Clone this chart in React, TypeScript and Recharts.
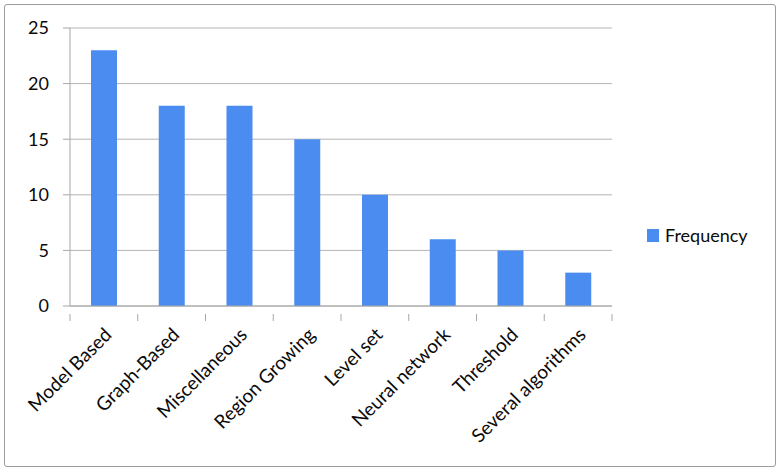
import { Bar, BarChart, CartesianGrid, XAxis, YAxis } from "recharts";

const categories = [
  "Model Based",
  "Graph-Based",
  "Miscellaneous",
  "Region Growing",
  "Level set",
  "Neural network",
  "Threshold",
  "Several algorithms",
];
const frequency = [23, 18, 18, 15, 10, 6, 5, 3];
const yTicks = [0, 5, 10, 15, 20, 25];
const seriesName = "Frequency";

const data = categories.map((name, i) => ({ name, [seriesName]: frequency[i] }));

const W = 780;
const H = 470;
const MARGIN = { top: 28, right: 168, bottom: 4, left: 0 };
const Y_AXIS_W = 70;
const PLOT_W = W - MARGIN.left - MARGIN.right - Y_AXIS_W;
const BAND = PLOT_W / categories.length;
const FONT = "Lato, 'Open Sans', sans-serif";
const BLUE = "#4A8CF0";
const AXIS_GRAY = "#A6A6A6";

// category label rotated 45°, plus the tick marks at the band boundaries
function CategoryTick(props: any) {
  const { x, y, payload, index } = props;
  const left = x - BAND / 2;
  const tx = x + 9;
  const ty = y + 22;
  return (
    <g>
      <line x1={left} y1={y} x2={left} y2={y + 7} stroke={AXIS_GRAY} />
      {index === categories.length - 1 && (
        <line x1={left + BAND} y1={y} x2={left + BAND} y2={y + 7} stroke={AXIS_GRAY} />
      )}
      <text
        x={tx}
        y={ty}
        transform={`rotate(-45 ${tx} ${ty})`}
        textAnchor="end"
        fill="#0a0a0a"
        fontSize={19}
        fontFamily={FONT}
      >
        {payload.value}
      </text>
    </g>
  );
}

export default function App() {
  return (
    <div style={{ position: "absolute", left: 0, top: 0, width: W, height: H, background: "#fff" }}>
      <div
        style={{
          position: "absolute",
          left: 4,
          top: 4,
          width: 770,
          height: 461,
          border: "1.5px solid #9C9C9C",
          borderRadius: 3,
        }}
      />
      <BarChart width={W} height={H} data={data} margin={MARGIN} barCategoryGap={0}>
        <CartesianGrid vertical={false} stroke="#B4B4B4" />
        <XAxis
          dataKey="name"
          interval={0}
          height={160}
          tickLine={false}
          axisLine={{ stroke: AXIS_GRAY }}
          tick={<CategoryTick />}
        />
        <YAxis
          width={Y_AXIS_W}
          domain={[0, 25]}
          ticks={yTicks}
          tickSize={7}
          tickMargin={14}
          axisLine={{ stroke: AXIS_GRAY }}
          tickLine={{ stroke: AXIS_GRAY }}
          tick={{ fill: "#0a0a0a", fontSize: 18, fontFamily: FONT }}
        />
        <Bar dataKey={seriesName} fill={BLUE} barSize={26} isAnimationActive={false} />
      </BarChart>
      <div
        style={{
          position: "absolute",
          left: 647,
          top: 224,
          display: "flex",
          alignItems: "center",
          fontFamily: FONT,
          fontSize: 18,
          color: "#0a0a0a",
        }}
      >
        <span style={{ display: "inline-block", width: 12, height: 13, background: BLUE, marginRight: 6 }} />
        {seriesName}
      </div>
    </div>
  );
}
